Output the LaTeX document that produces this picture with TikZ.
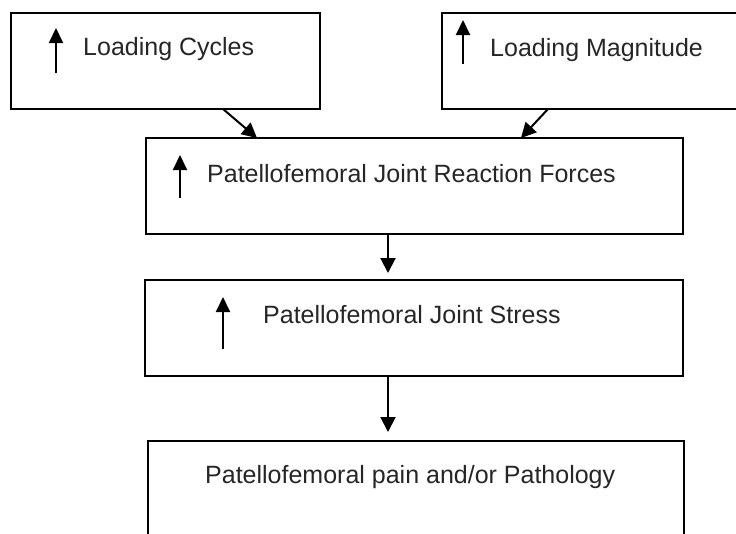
\documentclass[tikz,border=0pt]{standalone}
\usepackage{fontspec}
\setmainfont{Liberation Sans}
\usetikzlibrary{arrows.meta}
\begin{document}
\begin{tikzpicture}[x=1pt,y=-1pt,
  box/.style={draw=black,line width=1.5pt,minimum height=96pt,inner sep=0pt},
  lbl/.style={anchor=base west,inner sep=0pt,font=\fontsize{25}{30}\selectfont,text=black!85},
  conn/.style={line width=2pt,-{Triangle[width=15pt,length=15pt]}},
  uparr/.style={line width=2pt,-{Triangle[width=14pt,length=15pt]}}]
\useasboundingbox (0,0) rectangle (736,533);
\clip (0,0) rectangle (736,533);
\fill[white] (0,0) rectangle (736,533);
% boxes
\node[box,minimum width=309pt] (b1) at (165.5,61) {};
\node[box,minimum width=298pt] (b2) at (591,61) {};
\node[box,minimum width=537pt] (b3) at (414.5,186) {};
\node[box,minimum width=538pt] (b4) at (414,328) {};
\node[box,minimum width=536pt,minimum height=110pt] (b5) at (416,496) {};
% labels
\node[lbl] (t1) at (83,55) {Loading Cycles};
\node[lbl] (t2) at (490,56) {Loading Magnitude};
\node[lbl] (t3) at (207,182) {Patellofemoral Joint Reaction Forces};
\node[lbl] (t4) at (263,323) {Patellofemoral Joint Stress};
\node[lbl] (t5) at (205,483) {Patellofemoral pain and/or Pathology};
% small up arrows
\coordinate (u1a) at (56,73);  \coordinate (u1b) at (56,28);
\coordinate (u2a) at (463,64); \coordinate (u2b) at (463,20);
\coordinate (u3a) at (180,198); \coordinate (u3b) at (180,155);
\coordinate (u4a) at (223,349); \coordinate (u4b) at (223,297);
\draw[uparr] (u1a) -- (u1b);
\draw[uparr] (u2a) -- (u2b);
\draw[uparr] (u3a) -- (u3b);
\draw[uparr] (u4a) -- (u4b);
% connectors
\coordinate (c1s) at (223,109); \coordinate (c1e) at (257,138);
\coordinate (c2s) at (548,109); \coordinate (c2e) at (521,138);
\coordinate (c3s) at (388,234); \coordinate (c3e) at (388,273);
\coordinate (c4s) at (388,376); \coordinate (c4e) at (388,432);
\draw[conn] (c1s) -- (c1e);
\draw[conn] (c2s) -- (c2e);
\draw[conn] (c3s) -- (c3e);
\draw[conn] (c4s) -- (c4e);
\end{tikzpicture}
\end{document}
